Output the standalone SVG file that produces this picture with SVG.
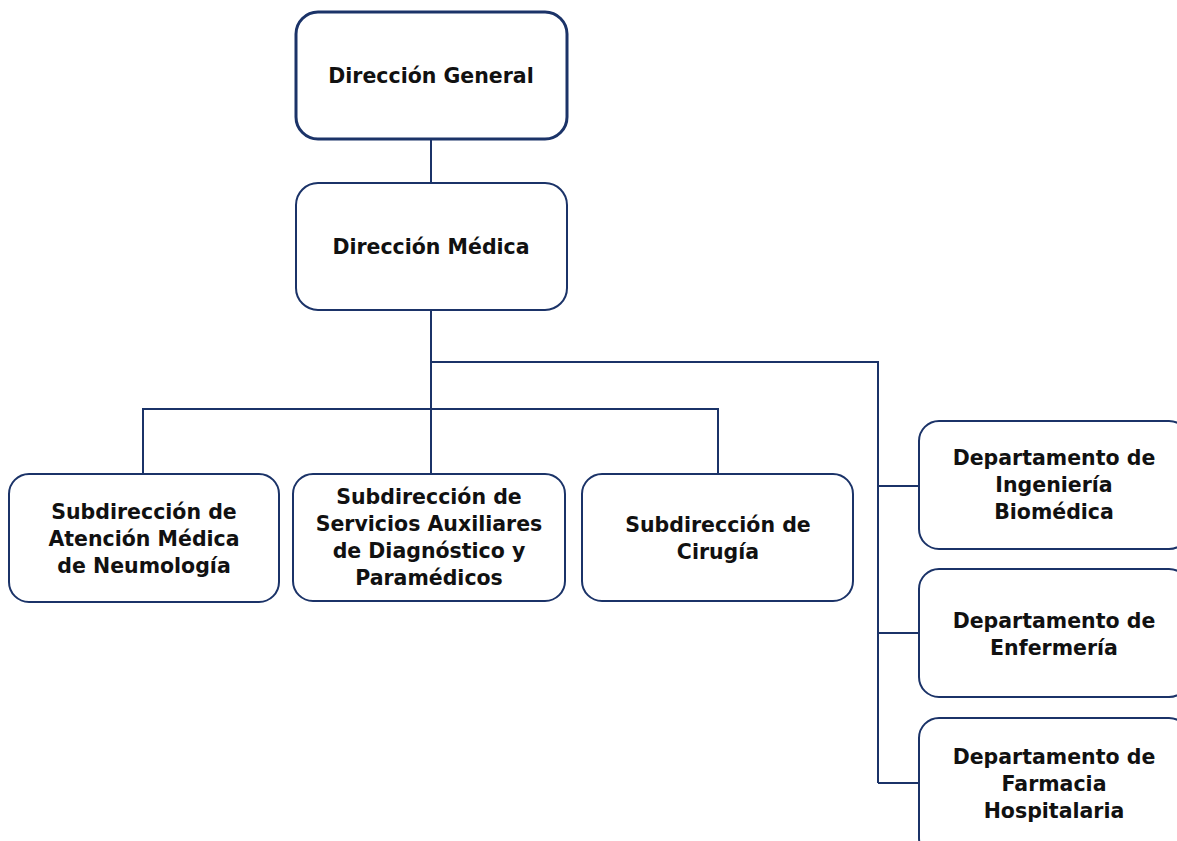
<svg xmlns="http://www.w3.org/2000/svg" width="1177" height="841" viewBox="0 0 1177 841">
<style>
.box{fill:#fff;stroke:#1b3368;stroke-width:2}
.top{stroke-width:3}
.ln{fill:none;stroke:#1b3368;stroke-width:2}
text{font-family:"DejaVu Sans","Liberation Sans",sans-serif;font-weight:bold;font-size:20.5px;fill:#111;text-anchor:middle}
</style>
<rect width="1177" height="841" fill="#fff"/>
<g id="connectors">
<path class="ln" d="M431 139V183"/>
<path class="ln" d="M431 310V474"/>
<path class="ln" d="M143 474V409H718V474"/>
<path class="ln" d="M431 362H878V783"/>
<path class="ln" d="M878 486H919M878 633H919M878 783H919"/>
</g>
<g id="n1"><rect class="box top" x="296" y="12" width="271" height="127" rx="22"/><text x="431" y="83">Dirección General</text></g>
<g id="n2"><rect class="box" x="296" y="183" width="271" height="127" rx="22"/><text x="431" y="254">Dirección Médica</text></g>
<g id="n3"><rect class="box" x="9" y="474" width="270" height="128" rx="20"/><text x="144" y="519">Subdirección de</text><text x="144" y="546">Atención Médica</text><text x="144" y="573">de Neumología</text></g>
<g id="n4"><rect class="box" x="293" y="474" width="272" height="127" rx="20"/><text x="429" y="504">Subdirección de</text><text x="429" y="531">Servicios Auxiliares</text><text x="429" y="558">de Diagnóstico y</text><text x="429" y="585">Paramédicos</text></g>
<g id="n5"><rect class="box" x="582" y="474" width="271" height="127" rx="20"/><text x="718" y="532">Subdirección de</text><text x="718" y="559">Cirugía</text></g>
<g id="n6"><rect class="box" x="919" y="421" width="270" height="128" rx="20"/><text x="1054" y="465">Departamento de</text><text x="1054" y="492">Ingeniería</text><text x="1054" y="519">Biomédica</text></g>
<g id="n7"><rect class="box" x="919" y="569" width="270" height="128" rx="20"/><text x="1054" y="628">Departamento de</text><text x="1054" y="655">Enfermería</text></g>
<g id="n8"><rect class="box" x="919" y="718" width="270" height="140" rx="20"/><text x="1054" y="764">Departamento de</text><text x="1054" y="791">Farmacia</text><text x="1054" y="818">Hospitalaria</text></g>
</svg>
